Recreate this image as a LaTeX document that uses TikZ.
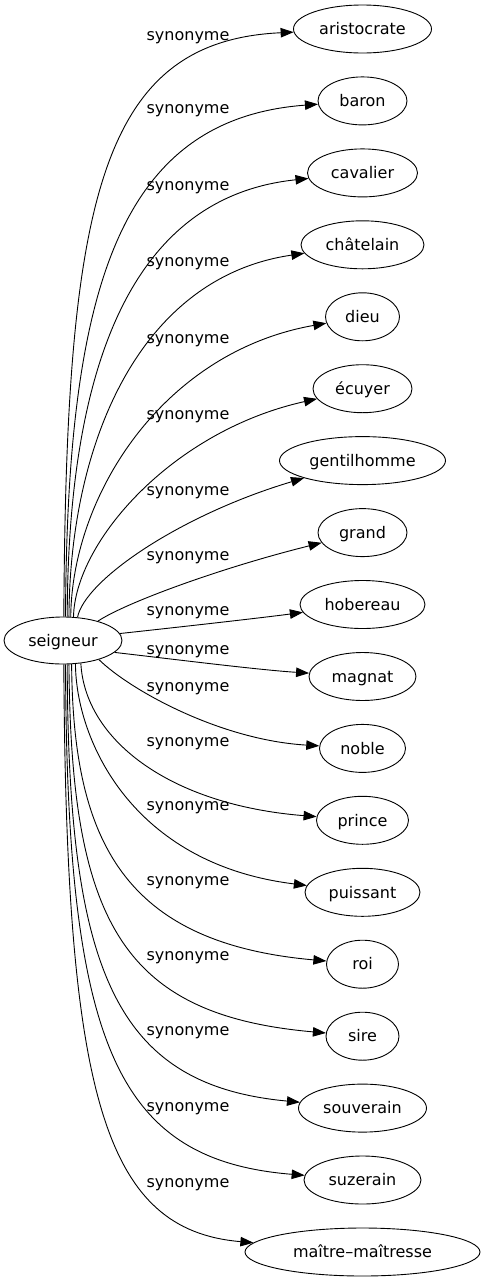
\documentclass[tikz,border=0pt]{standalone}
\usepackage{fontspec}
\setmainfont{DejaVu Sans}
\usetikzlibrary{shapes.geometric,arrows.meta}
\begin{document}
\begin{tikzpicture}[x=1pt,y=-1pt,
  every node/.style={font=\fontsize{16}{19}\selectfont},
  term/.style={draw, ellipse, inner sep=0pt, minimum height=48pt, text height=12pt, text depth=0.5pt, line width=0.9pt},
  rel/.style={anchor=base, inner sep=0pt},
  syn/.style={draw, line width=0.9pt, -{Triangle[length=13pt,width=9.5pt]}}]
\useasboundingbox (0,0) rectangle (485,1283);
% source
\node[term, minimum width=118pt, minimum height=47pt] (s) at (63,640.5) {seigneur};
% targets
\node[term, minimum width=138pt] (t1) at (362.5,29) {aristocrate};
\node[term, minimum width=89pt] (t2) at (362.5,100.9) {baron};
\node[term, minimum width=110pt] (t3) at (362.5,172.9) {cavalier};
\node[term, minimum width=123pt] (t4) at (362.5,244.8) {châtelain};
\node[term, minimum width=74pt] (t5) at (362.5,316.8) {dieu};
\node[term, minimum width=99pt] (t6) at (362.5,388.7) {écuyer};
\node[term, minimum width=166pt] (t7) at (362.5,460.6) {gentilhomme};
\node[term, minimum width=89pt] (t8) at (362.5,532.6) {grand};
\node[term, minimum width=125pt] (t9) at (362.5,604.5) {hobereau};
\node[term, minimum width=107pt] (t10) at (362.5,676.5) {magnat};
\node[term, minimum width=86pt] (t11) at (362.5,748.4) {noble};
\node[term, minimum width=92pt] (t12) at (362.5,820.3) {prince};
\node[term, minimum width=115pt] (t13) at (362.5,892.3) {puissant};
\node[term, minimum width=72pt] (t14) at (362.5,964.2) {roi};
\node[term, minimum width=73pt] (t15) at (362.5,1036.2) {sire};
\node[term, minimum width=128pt] (t16) at (362.5,1108.1) {souverain};
\node[term, minimum width=117pt] (t17) at (362.5,1180) {suzerain};
\node[term, minimum width=235pt] (t18) at (362.5,1252) {maître–maîtresse};
% edge labels
\node[rel] (l1) at (188,40.5) {synonyme};
\node[rel] (l2) at (188,113.5) {synonyme};
\node[rel] (l3) at (188,190.5) {synonyme};
\node[rel] (l4) at (188,266.5) {synonyme};
\node[rel] (l5) at (188,343.5) {synonyme};
\node[rel] (l6) at (188,419.5) {synonyme};
\node[rel] (l7) at (188,495.5) {synonyme};
\node[rel] (l8) at (188,560.5) {synonyme};
\node[rel] (l9) at (188,615.5) {synonyme};
\node[rel] (l10) at (188,654.5) {synonyme};
\node[rel] (l11) at (188,691.5) {synonyme};
\node[rel] (l12) at (188,746.5) {synonyme};
\node[rel] (l13) at (188,810.5) {synonyme};
\node[rel] (l14) at (188,885.5) {synonyme};
\node[rel] (l15) at (188,960.5) {synonyme};
\node[rel] (l16) at (188,1035.5) {synonyme};
\node[rel] (l17) at (188,1111.5) {synonyme};
\node[rel] (l18) at (188,1187.5) {synonyme};
% edges
\path[syn] (s.88) .. controls (66,201) and (100,41) .. (t1);
\path[syn] (s.84) .. controls (67,291) and (118,119) .. (t2);
\path[syn] (s.80) .. controls (68,371) and (129,197) .. (t3);
\path[syn] (s.76) .. controls (70,440) and (141,277) .. (t4);
\path[syn] (s.72) .. controls (72,495) and (163,352) .. (t5);
\path[syn] (s.66) .. controls (75,542) and (172,431) .. (t6);
\path[syn] (s.58) .. controls (85,580) and (180,515) .. (t7);
\path[syn] (s.29) .. controls (125,603) and (220,568) .. (t8);
\path[syn] (s.7) .. controls (180,627) and (260,618) .. (t9);
\path[syn] (s.-13) .. controls (180,660) and (260,670) .. (t10);
\path[syn] (s.-28) .. controls (130,690) and (220,740) .. (t11);
\path[syn] (s.-52) .. controls (85,740) and (170,805) .. (t12);
\path[syn] (s.-62) .. controls (76,740) and (132,864) .. (t13);
\path[syn] (s.-70) .. controls (73,840) and (123,943) .. (t14);
\path[syn] (s.-76) .. controls (71,920) and (121,1015) .. (t15);
\path[syn] (s.-80) .. controls (68,971) and (115,1085) .. (t16);
\path[syn] (s.-84) .. controls (67,1043) and (115,1160) .. (t17);
\path[syn] (s.-88) .. controls (66,1096) and (104,1230) .. (t18);
\end{tikzpicture}
\end{document}
